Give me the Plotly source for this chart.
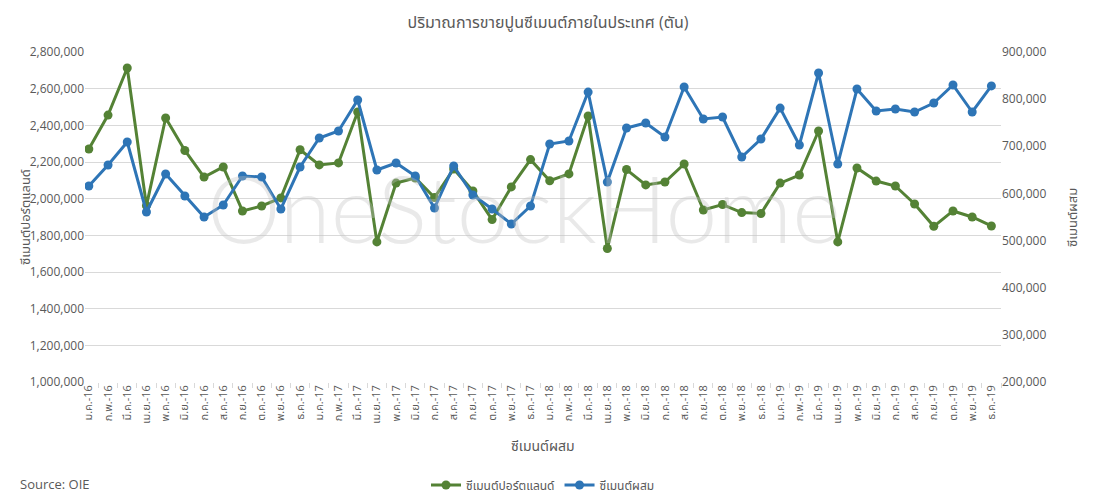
import plotly.graph_objects as go

# --- data ---
months = ["ม.ค.", "ก.พ.", "มี.ค.", "เม.ย.", "พ.ค.", "มิ.ย.",
          "ก.ค.", "ส.ค.", "ก.ย.", "ต.ค.", "พ.ย.", "ธ.ค."]
years = ["16", "17", "18", "19"]
categories = [m + "-" + y for y in years for m in months]

portland = [2271000, 2456000, 2713000, 1962000, 2440000, 2263000,
            2118000, 2173000, 1933000, 1960000, 2004000, 2267000,
            2184000, 2195000, 2473000, 1764000, 2085000, 2113000,
            2006000, 2162000, 2042000, 1886000, 2064000, 2213000,
            2098000, 2135000, 2451000, 1728000, 2159000, 2075000,
            2091000, 2189000, 1938000, 1968000, 1924000, 1919000,
            2085000, 2129000, 2369000, 1764000, 2167000, 2096000,
            2069000, 1971000, 1849000, 1933000, 1900000, 1851000]

mixed = [615800, 660300, 709100, 560600, 641200, 594500,
         550000, 575500, 637000, 634800, 567000, 656000,
         717600, 732400, 798200, 649700, 664500, 637000,
         569100, 658200, 596700, 567000, 535200, 573300,
         704800, 711200, 815000, 624200, 738800, 749400,
         719700, 825800, 757900, 762100, 677300, 715500,
         781000, 702700, 855500, 662400, 821500, 774800,
         779000, 772700, 791800, 830000, 772700, 828000]

GREEN = "#548235"
BLUE = "#2E75B6"
GREY = "#595959"
FONT = "Open Sans, Noto Sans Thai, Noto Sans, sans-serif"

fig = go.Figure()

fig.add_trace(go.Scatter(
    x=categories, y=portland, name="ซีเมนต์ปอร์ตแลนด์",
    mode="lines+markers",
    line=dict(color=GREEN, width=3),
    marker=dict(color=GREEN, size=9),
))
fig.add_trace(go.Scatter(
    x=categories, y=mixed, name="ซีเมนต์ผสม",
    mode="lines+markers", yaxis="y2",
    line=dict(color=BLUE, width=3),
    marker=dict(color=BLUE, size=9),
))

fig.update_layout(
    width=1096, height=493,
    paper_bgcolor="white", plot_bgcolor="white",
    font=dict(family=FONT, size=12, color=GREY),
    margin=dict(l=85, r=95, t=52, b=111, autoexpand=False),
    title=dict(text="ปริมาณการขายปูนซีเมนต์ภายในประเทศ (ตัน)",
               x=0.5, xanchor="center", y=0.955, yanchor="middle",
               font=dict(size=16, color=GREY), automargin=False),
    xaxis=dict(
        type="category", range=[-0.2, 47.5], automargin=False,
        tickangle=-90, tickfont=dict(size=11, color=GREY),
        showgrid=False, showline=False, zeroline=False,
        ticks="outside", tickson="boundaries", ticklen=5,
        tickcolor="#d9d9d9",
    ),
    yaxis=dict(
        range=[1000000, 2800000], dtick=200000, tickformat=",",
        automargin=False,
        showgrid=True, gridcolor="#d9d9d9", gridwidth=1,
        zeroline=False, showline=False, ticks="",
        tickfont=dict(size=12, color=GREY),
    ),
    yaxis2=dict(
        range=[200000, 900000], dtick=100000, tickformat=",",
        overlaying="y", side="right", automargin=False,
        showgrid=False, zeroline=False, showline=False, ticks="",
        tickfont=dict(size=12, color=GREY),
    ),
    legend=dict(orientation="h", x=0.5, xanchor="center",
                y=-0.312, yanchor="middle",
                font=dict(size=12, color=GREY),
                bgcolor="rgba(0,0,0,0)"),
    showlegend=True,
)

# axis titles placed by hand (both vertical ones read bottom-to-top)
fig.add_annotation(
    text="ซีเมนต์ผสม", xref="paper", yref="paper",
    x=0.5, y=-0.191, xanchor="center", yanchor="middle",
    showarrow=False, font=dict(size=14, color=GREY),
)
fig.add_annotation(
    text="ซีเมนต์ปอร์ตแลนด์", xref="paper", yref="paper",
    x=-0.0655, y=0.5, xanchor="center", yanchor="middle",
    textangle=-90, showarrow=False, font=dict(size=13, color=GREY),
)
fig.add_annotation(
    text="ซีเมนต์ผสม", xref="paper", yref="paper",
    x=1.0775, y=0.5, xanchor="center", yanchor="middle",
    textangle=-90, showarrow=False, font=dict(size=13, color=GREY),
)

# watermark sits above the lines, like in the original
fig.add_annotation(
    text="OneStockHome", xref="paper", yref="paper",
    x=0.479, y=0.53, xanchor="center", yanchor="middle",
    showarrow=False,
    font=dict(family="Lato, Open Sans, sans-serif", size=93, weight=300,
              color="rgba(195,195,195,0.36)"),
)

fig.add_annotation(
    text="Source: OIE", xref="paper", yref="paper",
    x=-0.073, y=-0.31, xanchor="left", yanchor="middle",
    showarrow=False, font=dict(size=13, color=GREY),
)

# the page body has a default 8px margin; drop it so the figure fills the window
fig.write_html("out.html", config={"displayModeBar": False},
               post_script="document.body.style.margin='0';")
